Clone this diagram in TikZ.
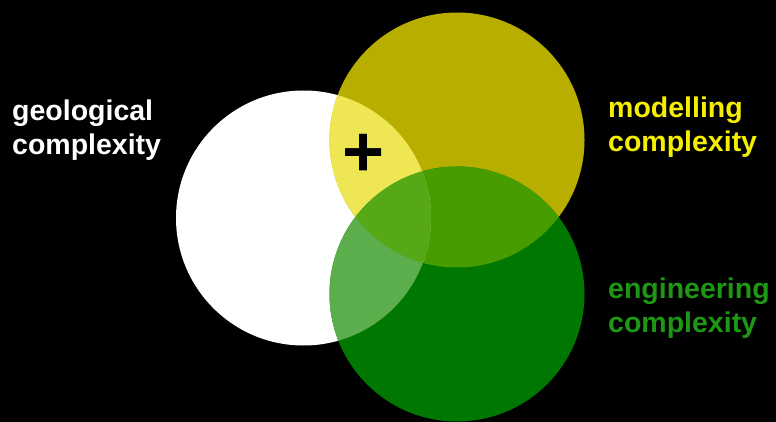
\documentclass[tikz,border=0pt]{standalone}
\usepackage{fontspec}
\setmainfont{Liberation Sans}
\usetikzlibrary{positioning}

\definecolor{modfill}{RGB}{183,174,0}
\definecolor{engfill}{RGB}{0,119,0}
\definecolor{geomod}{RGB}{238,230,83}
\definecolor{geoeng}{RGB}{91,174,75}
\definecolor{modeng}{RGB}{71,156,0}
\definecolor{allthree}{RGB}{86,168,22}
\definecolor{modtext}{RGB}{245,238,0}
\definecolor{engtext}{RGB}{30,152,20}

\begin{document}
\begin{tikzpicture}[x=1pt,y=-1pt,font=\bfseries\fontsize{28.5}{34}\selectfont,
  setlabel/.style={anchor=base west,align=left,inner sep=0pt}]
\fill[black] (0,0) rectangle (776,422);
\def\rad{127.5}
\coordinate (geo) at (303.5,218);
\coordinate (mod) at (457,140);
\coordinate (eng) at (457,294);
% the three sets
\fill[white] (geo) circle (\rad);
\fill[modfill] (mod) circle (\rad);
\fill[engfill] (eng) circle (\rad);
% overlaps
\begin{scope}
 \clip (mod) circle (\rad);
 \fill[modeng] (eng) circle (\rad);
\end{scope}
\begin{scope}
 \clip (geo) circle (\rad);
 \fill[geomod] (mod) circle (\rad);
 \fill[geoeng] (eng) circle (\rad);
 \clip (mod) circle (\rad);
 \fill[allthree] (eng) circle (\rad);
\end{scope}
\node[anchor=base,inner sep=0pt,font=\bfseries\fontsize{72}{72}\selectfont] (plus) at (363.5,177) {+};
% labels (anchored at the baseline of the second line)
\node[setlabel,text=white] (geolabel) at (12,155) {geological\\complexity};
\node[setlabel,text=modtext] (modlabel) at (608,152) {modelling\\complexity};
\node[setlabel,text=engtext] (englabel) at (608,332) {engineering\\complexity};
\end{tikzpicture}
\end{document}
